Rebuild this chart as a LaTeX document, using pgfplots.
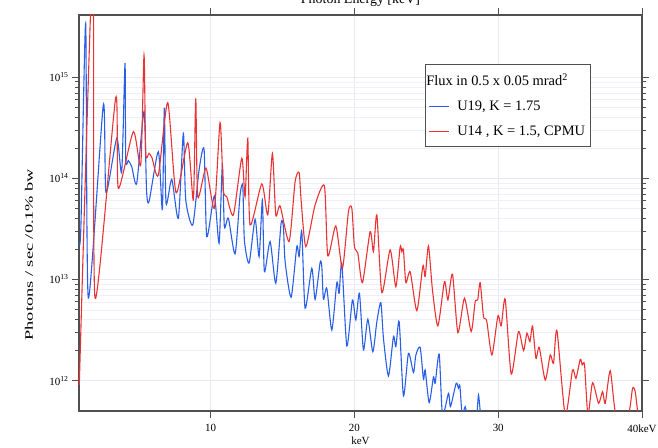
\documentclass[border=0pt]{standalone}
\usepackage{fontspec}
\setmainfont{Liberation Serif}
\usepackage{graphicx}
\usepackage{pgfplots}
\pgfplotsset{compat=1.18}
\definecolor{cblue}{RGB}{40,95,230}
\definecolor{cred}{RGB}{235,50,50}
\definecolor{gridc}{RGB}{230,232,248}
\definecolor{gridm}{RGB}{238,239,250}
\definecolor{axc}{RGB}{80,80,80}
\begin{document}
\begin{tikzpicture}
\begin{axis}[
 scale only axis, width=563bp, height=396bp,
 xmin=0.84, xmax=40, ymode=log, ymin=5.0e11, ymax=4.13e15,
 axis line style={axc, line width=1.3bp},
 every tick/.style={axc, line width=0.8bp},
 tick align=outside,
 major tick length=7bp, minor tick length=4bp,
 xtick={10,20,30,40}, xticklabels={10,20,30,40keV},
 ytick={1e12,1e13,1e14,1e15},
 yticklabels={10\textsuperscript{12},10\textsuperscript{13},10\textsuperscript{14},10\textsuperscript{15}},
 xmajorgrids, ymajorgrids, yminorgrids,
 major grid style={gridc, line width=0.8bp},
 minor grid style={gridm, line width=0.6bp},
 tick label style={font=\fontsize{11}{13}\selectfont},
 xticklabel style={yshift=-3bp},
 xlabel={keV}, ylabel={\scalebox{1.6}[1]{Photons / sec /0.1\% bw}},
 xlabel style={font=\fontsize{11}{13}\selectfont, at={(axis description cs:0.5,0)}, anchor=center, yshift=-30bp},
 ylabel style={font=\fontsize{11.5}{13}\selectfont, at={(axis description cs:-0.0888,0.395)}, anchor=center, rotate=0},
 legend style={at={(0.6146,0.876)}, anchor=north west, draw=axc, line width=0.8bp,
   font=\fontsize{14.5}{17}\selectfont, row sep=10bp, inner xsep=3bp, inner ysep=7bp},
 legend cell align=left,
 legend image code/.code={\draw[#1, line width=0.7bp] (0bp,0bp) -- (20bp,0bp); \path (26bp,0bp);},
 smooth, tension=0.4,
]
\addlegendimage{empty legend}
\addlegendentry{\hspace*{-31bp}Flux in 0.5 x 0.05 mrad\textsuperscript{2}}
\addplot[cblue, line width=1.1bp] table {
0.880 2.20e13
0.979 3.62e13
1.306 3.42e15
1.487 6.56e12
2.531 5.32e14
2.719 7.22e13
3.464 2.49e14
3.811 1.16e14
4.041 1.38e15
4.090 1.52e14
4.271 1.50e14
4.507 1.31e14
4.855 8.95e13
5.363 4.57e14
5.537 7.67e13
5.711 5.89e13
6.358 1.84e14
6.637 4.94e13
6.776 5.00e14
6.894 5.67e13
7.291 9.79e13
7.750 4.03e13
8.098 2.79e14
8.265 6.11e13
8.752 3.46e13
9.191 1.21e14
9.539 1.94e14
9.727 2.65e13
10.255 6.70e13
10.583 2.28e13
10.812 1.36e14
10.951 3.33e13
11.230 4.03e13
11.696 1.79e13
12.044 6.85e13
12.232 8.41e13
12.343 2.46e13
12.670 1.45e13
13.088 3.94e13
13.366 1.68e13
13.596 6.11e13
13.735 1.19e13
14.132 2.37e13
14.528 9.17e12
14.897 3.60e13
15.057 3.33e13
15.176 1.50e13
15.593 6.67e12
15.990 2.11e13
16.150 1.68e13
16.338 2.97e13
16.567 5.19e12
17.033 1.29e13
17.263 6.37e12
17.611 1.47e13
17.729 1.34e13
17.841 6.37e12
18.077 8.18e12
18.425 3.16e12
18.773 9.29e12
18.933 7.31e12
19.121 1.45e13
19.469 2.20e12
19.859 6.27e12
20.095 3.98e12
20.346 7.31e12
20.624 2.01e12
20.930 4.04e12
21.278 1.93e12
21.557 3.82e12
21.835 5.90e12
22.016 2.62e12
22.364 1.11e12
22.712 2.72e12
22.879 2.16e12
23.109 3.82e12
23.408 7.05e11
23.756 1.86e12
24.104 1.20e12
24.271 1.79e12
24.570 2.13e12
24.800 1.03e12
24.918 1.27e12
25.196 6.04e11
25.496 1.09e12
25.614 9.40e11
25.892 1.83e12
26.122 4.57e11
26.540 7.48e11
26.679 5.52e11
27.075 9.40e11
27.235 8.39e11
27.333 8.85e11
27.493 4.57e11
27.701 5.52e11
27.910 4.27e11
28.467 4.27e11
28.627 7.21e11
28.780 4.27e11
};
\addlegendentry{U19, K = 1.75}
\addplot[cred, line width=1.1bp] table {
0.861 9.04e11
1.800 1.45e16
1.953 6.56e12
3.394 6.28e14
3.575 7.98e13
4.619 2.90e14
5.134 1.36e14
5.363 1.66e15
5.482 1.77e14
5.711 1.77e14
5.920 1.59e14
6.358 1.08e14
7.013 5.61e14
7.590 7.22e13
8.404 2.25e14
8.794 6.11e13
8.961 6.19e14
9.100 6.59e13
9.678 1.26e14
10.255 5.06e13
10.652 3.56e14
10.882 7.67e13
11.118 6.59e13
11.578 4.35e13
12.162 1.58e14
12.392 6.59e13
12.580 2.49e14
12.740 3.46e13
13.554 8.81e13
13.971 4.35e13
14.292 1.77e14
14.528 4.35e13
14.828 5.33e13
15.454 2.37e13
15.871 9.27e13
16.150 1.14e14
16.289 6.11e13
16.616 2.11e13
17.263 5.46e13
17.910 8.41e13
18.147 1.71e13
18.704 3.38e13
19.163 1.29e13
19.581 4.69e13
19.817 5.06e13
19.998 2.11e13
20.235 1.82e13
20.555 9.29e12
21.091 2.97e13
21.320 1.88e13
21.557 4.35e13
21.905 7.41e12
22.482 1.96e13
22.879 8.49e12
23.178 2.11e13
23.296 1.88e13
23.408 1.96e13
23.575 9.29e12
23.874 1.19e13
24.340 4.91e12
24.758 1.36e13
24.918 1.07e13
25.148 2.14e13
25.426 7.87e12
25.802 3.47e12
26.261 9.51e12
26.498 6.27e12
26.818 1.13e13
27.194 2.98e12
27.653 6.52e12
28.119 3.05e12
28.397 6.04e12
28.571 6.27e12
28.745 9.29e12
28.975 4.29e12
29.198 3.89e12
29.560 1.79e12
29.977 4.35e12
30.207 3.47e12
30.485 6.37e12
30.903 1.16e12
31.411 3.05e12
31.759 1.98e12
31.995 2.94e12
32.204 2.43e12
32.385 3.47e12
32.622 1.66e12
32.851 2.13e12
33.269 1.01e12
33.617 1.79e12
33.846 1.48e12
34.083 3.12e12
34.660 4.57e11
35.168 1.27e12
35.405 1.05e12
35.704 1.62e12
35.844 1.43e12
36.004 1.43e12
36.240 4.57e11
36.560 9.53e11
36.978 5.96e11
37.256 7.76e11
37.444 5.96e11
37.792 1.25e12
38.189 4.57e11
39.045 4.57e11
39.344 8.39e11
39.531 7.71e11
39.740 4.57e11
40.000 4.50e11
};
\addlegendentry{U14 , K = 1.5, CPMU\rule[-9bp]{0pt}{9bp}}
\end{axis}
\node[anchor=base, font=\fontsize{14}{16}\selectfont] at (281.5bp,407bp) {Photon Energy [keV]};
\pgfresetboundingbox
\useasboundingbox (-79bp,-37bp) rectangle (579bp,411bp);
\end{tikzpicture}
\end{document}
